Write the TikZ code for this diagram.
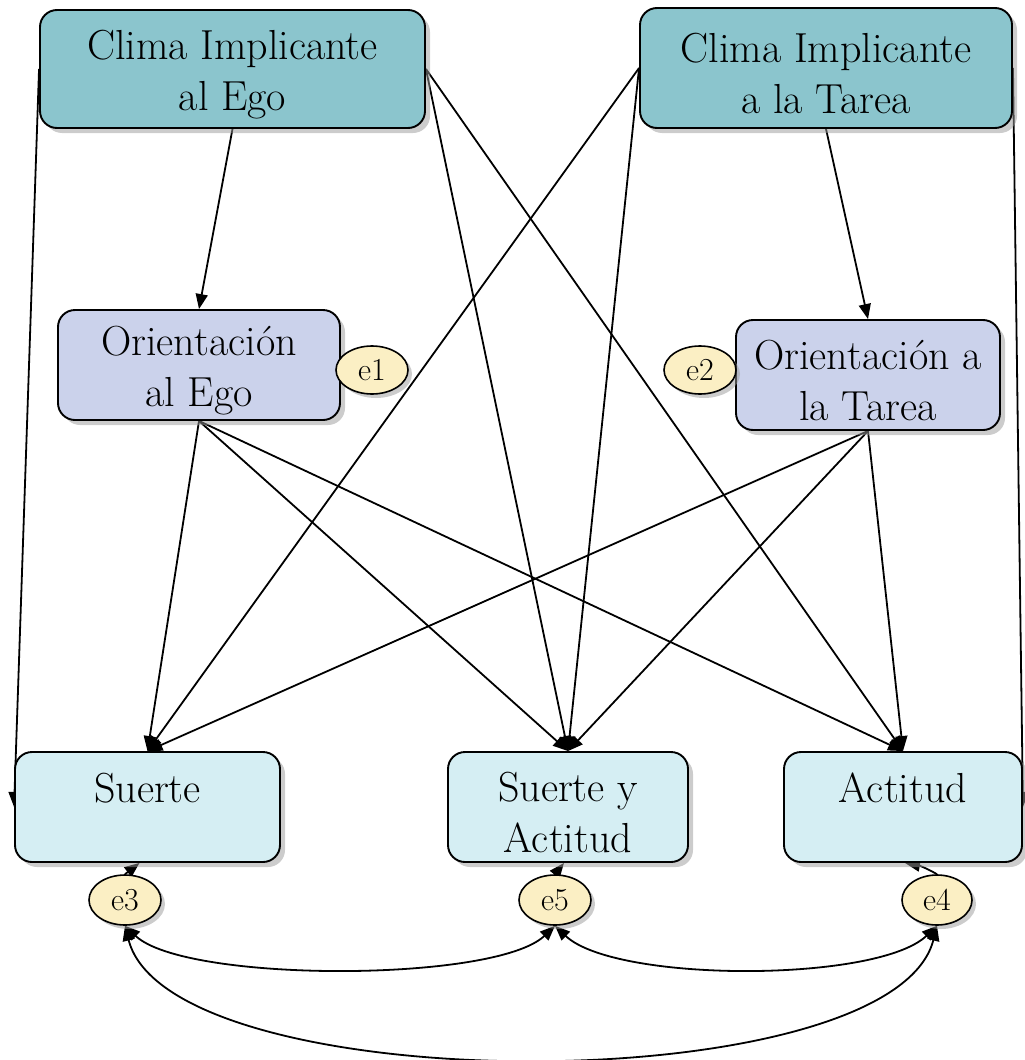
\documentclass[tikz,border=0pt]{standalone}
\usetikzlibrary{arrows.meta,shadows,backgrounds,shapes.geometric}
\definecolor{climafill}{HTML}{8BC5CD}
\definecolor{orientfill}{HTML}{CBD2EB}
\definecolor{outfill}{HTML}{D5EEF3}
\definecolor{errfill}{HTML}{FBEFC4}
\begin{document}
\begin{tikzpicture}[x=1pt,y=-1pt,
  box/.style={draw=black, line width=1.9pt, rounded corners=17pt, align=center,
    inner sep=0pt, font=\fontsize{42}{51}\selectfont, text height=92pt,
    drop shadow={shadow xshift=5pt, shadow yshift=-5pt, fill=black!40}},
  clima/.style={box, fill=climafill},
  orient/.style={box, fill=orientfill},
  outcome/.style={box, fill=outfill},
  err/.style={ellipse, draw=black, line width=1.6pt, fill=errfill, inner sep=0pt,
    minimum width=72pt, minimum height=48pt, font=\fontsize{32}{32}\selectfont,
    drop shadow={shadow xshift=4pt, shadow yshift=-4pt, fill=black!40}},
  tip/.tip={Triangle[length=15pt,width=12pt]},
  path/.style={line width=1.8pt, -tip},
  cov/.style={line width=1.8pt, tip-tip},
]
\useasboundingbox (0,0) rectangle (1025,1060);

% exogenous climate variables
\node[clima, minimum width=385pt, minimum height=118pt] (A) at (232.5,69) {Clima Implicante\\al Ego};
\node[clima, minimum width=372pt, minimum height=120pt] (B) at (826,68) {Clima Implicante\\a la Tarea};

% goal orientations and their disturbances
\node[orient, minimum width=282pt, minimum height=110pt] (C) at (199,365) {Orientación\\al Ego};
\node[orient, minimum width=264pt, minimum height=110pt] (D) at (868,375) {Orientación a\\la Tarea};
\node[err] (e1) at (372,370) {e1};
\node[err] (e2) at (700,370) {e2};

% outcomes and their disturbances
\node[outcome, minimum width=265pt, minimum height=110pt] (E) at (147.5,807) {Suerte\\\mbox{}};
\node[outcome, minimum width=240pt, minimum height=110pt] (F) at (568,807) {Suerte y\\Actitud};
\node[outcome, minimum width=238pt, minimum height=110pt] (G) at (903,807) {Actitud\\\mbox{}};
\node[err, minimum height=50pt] (e3) at (125,900) {e3};
\node[err, minimum height=50pt] (e5) at (555,900) {e5};
\node[err, minimum width=70pt, minimum height=50pt] (e4) at (937,900) {e4};

\begin{scope}[on background layer]
  % paths from the climates
  \draw[path] (A.south) -- (C.north);
  \draw[path] (A.west) -- (E.west);
  \draw[path] (A.east) -- (F.north);
  \draw[path] (A.east) -- (G.north);
  \draw[path] (B.west) -- (E.north);
  \draw[path] (B.west) -- (F.north);
  \draw[path] (B.south) -- (D.north);
  \draw[path] (B.east) -- (G.east);
  % paths from the orientations
  \draw[path] (C.south) -- (E.north);
  \draw[path] (C.south) -- (F.north);
  \draw[path] (C.south) -- (G.north);
  \draw[path] (D.south) -- (E.north);
  \draw[path] (D.south) -- (F.north);
  \draw[path] (D.south) -- (G.north);
  % disturbances of the outcomes
  \draw[path] (e3.north) -- ([xshift=-8pt]E.south);
  \draw[path] (e5.north) -- ([xshift=-4pt]F.south);
  \draw[path] (e4.north) to[out=150,in=-10] ([xshift=2pt]G.south);
  % covariances among disturbances
  \draw[cov] (e3.south) .. controls +(60,57) and +(-60,57) .. (e5.south);
  \draw[cov] (e5.south) .. controls +(60,57) and +(-60,57) .. (e4.south);
  \draw[cov] (e3.south) .. controls +(45,176) and +(-45,176) .. (e4.south);
\end{scope}
\end{tikzpicture}
\end{document}
